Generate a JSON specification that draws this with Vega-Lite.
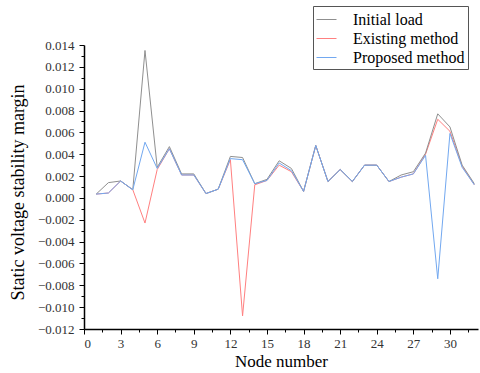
{
  "$schema": "https://vega.github.io/schema/vega-lite/v6.json",
  "width": 394,
  "height": 284,
  "autosize": {"type": "none"},
  "padding": {"left": 84, "top": 45, "right": 2, "bottom": 44},
  "background": "white",
  "config": {"view": {"stroke": null}, "font": "Liberation Serif"},
  "data": {"values": [
    {"node":1,"series":"Existing method","v":0.00035},{"node":1,"series":"Initial load","v":0.00035},{"node":1,"series":"Proposed method","v":0.00035},
    {"node":2,"series":"Existing method","v":0.00045},{"node":2,"series":"Initial load","v":0.0014},{"node":2,"series":"Proposed method","v":0.00045},
    {"node":3,"series":"Existing method","v":0.00155},{"node":3,"series":"Initial load","v":0.00155},{"node":3,"series":"Proposed method","v":0.00155},
    {"node":4,"series":"Existing method","v":0.00075},{"node":4,"series":"Initial load","v":0.00075},{"node":4,"series":"Proposed method","v":0.00075},
    {"node":5,"series":"Existing method","v":-0.0023},{"node":5,"series":"Initial load","v":0.0135},{"node":5,"series":"Proposed method","v":0.0051},
    {"node":6,"series":"Existing method","v":0.0026},{"node":6,"series":"Initial load","v":0.0028},{"node":6,"series":"Proposed method","v":0.0027},
    {"node":7,"series":"Existing method","v":0.0045},{"node":7,"series":"Initial load","v":0.0047},{"node":7,"series":"Proposed method","v":0.0045},
    {"node":8,"series":"Existing method","v":0.0021},{"node":8,"series":"Initial load","v":0.0022},{"node":8,"series":"Proposed method","v":0.0021},
    {"node":9,"series":"Existing method","v":0.0021},{"node":9,"series":"Initial load","v":0.0022},{"node":9,"series":"Proposed method","v":0.0021},
    {"node":10,"series":"Existing method","v":0.0004},{"node":10,"series":"Initial load","v":0.0004},{"node":10,"series":"Proposed method","v":0.0004},
    {"node":11,"series":"Existing method","v":0.0008},{"node":11,"series":"Initial load","v":0.0008},{"node":11,"series":"Proposed method","v":0.0008},
    {"node":12,"series":"Existing method","v":0.0035},{"node":12,"series":"Initial load","v":0.0038},{"node":12,"series":"Proposed method","v":0.0036},
    {"node":13,"series":"Existing method","v":-0.0108},{"node":13,"series":"Initial load","v":0.0037},{"node":13,"series":"Proposed method","v":0.0035},
    {"node":14,"series":"Existing method","v":0.0012},{"node":14,"series":"Initial load","v":0.0013},{"node":14,"series":"Proposed method","v":0.0013},
    {"node":15,"series":"Existing method","v":0.0016},{"node":15,"series":"Initial load","v":0.0017},{"node":15,"series":"Proposed method","v":0.0016},
    {"node":16,"series":"Existing method","v":0.003},{"node":16,"series":"Initial load","v":0.0034},{"node":16,"series":"Proposed method","v":0.0032},
    {"node":17,"series":"Existing method","v":0.0024},{"node":17,"series":"Initial load","v":0.0027},{"node":17,"series":"Proposed method","v":0.0025},
    {"node":18,"series":"Existing method","v":0.0006},{"node":18,"series":"Initial load","v":0.0006},{"node":18,"series":"Proposed method","v":0.0006},
    {"node":19,"series":"Existing method","v":0.0048},{"node":19,"series":"Initial load","v":0.0048},{"node":19,"series":"Proposed method","v":0.0048},
    {"node":20,"series":"Existing method","v":0.0015},{"node":20,"series":"Initial load","v":0.0015},{"node":20,"series":"Proposed method","v":0.0015},
    {"node":21,"series":"Existing method","v":0.0026},{"node":21,"series":"Initial load","v":0.0026},{"node":21,"series":"Proposed method","v":0.0026},
    {"node":22,"series":"Existing method","v":0.0015},{"node":22,"series":"Initial load","v":0.0015},{"node":22,"series":"Proposed method","v":0.0015},
    {"node":23,"series":"Existing method","v":0.003},{"node":23,"series":"Initial load","v":0.003},{"node":23,"series":"Proposed method","v":0.003},
    {"node":24,"series":"Existing method","v":0.003},{"node":24,"series":"Initial load","v":0.003},{"node":24,"series":"Proposed method","v":0.003},
    {"node":25,"series":"Existing method","v":0.0015},{"node":25,"series":"Initial load","v":0.0015},{"node":25,"series":"Proposed method","v":0.0015},
    {"node":26,"series":"Existing method","v":0.0019},{"node":26,"series":"Initial load","v":0.0021},{"node":26,"series":"Proposed method","v":0.0019},
    {"node":27,"series":"Existing method","v":0.0022},{"node":27,"series":"Initial load","v":0.0024},{"node":27,"series":"Proposed method","v":0.0022},
    {"node":28,"series":"Existing method","v":0.004},{"node":28,"series":"Initial load","v":0.0041},{"node":28,"series":"Proposed method","v":0.0039},
    {"node":29,"series":"Existing method","v":0.0072},{"node":29,"series":"Initial load","v":0.0077},{"node":29,"series":"Proposed method","v":-0.0074},
    {"node":30,"series":"Existing method","v":0.0061},{"node":30,"series":"Initial load","v":0.0065},{"node":30,"series":"Proposed method","v":0.0059},
    {"node":31,"series":"Existing method","v":0.0029},{"node":31,"series":"Initial load","v":0.003},{"node":31,"series":"Proposed method","v":0.0028},
    {"node":32,"series":"Existing method","v":0.0012},{"node":32,"series":"Initial load","v":0.0013},{"node":32,"series":"Proposed method","v":0.0012}
  ]},
  "mark": {"type": "line", "strokeWidth": 1, "clip": true},
  "encoding": {
    "x": {
      "field": "node", "type": "quantitative",
      "scale": {"domain": [0, 32.3], "nice": false, "zero": false},
      "axis": {
        "title": "Node number",
        "titleFont": "Liberation Serif", "titleFontSize": 17, "titleFontWeight": "normal", "titleColor": "black",
        "titlePadding": 3,
        "values": [0,1.5,3,4.5,6,7.5,9,10.5,12,13.5,15,16.5,18,19.5,21,22.5,24,25.5,27,28.5,30,31.5],
        "labelExpr": "datum.value % 3 == 0 ? format(datum.value, 'd') : ''",
        "labelFont": "Liberation Serif", "labelFontSize": 13, "labelColor": "#333",
        "labelPadding": 3,
        "tickSize": {"condition": {"test": "datum.value % 3 == 0", "value": 5}, "value": 3},
        "tickColor": "black", "tickWidth": 1,
        "domainColor": "black", "domainWidth": 1.5,
        "grid": false
      }
    },
    "y": {
      "field": "v", "type": "quantitative",
      "scale": {"domain": [-0.012, 0.014], "nice": false, "zero": false},
      "axis": {
        "title": "Static voltage stability margin",
        "titleFont": "Liberation Serif", "titleFontSize": 18, "titleFontWeight": "normal", "titleColor": "black",
        "titlePadding": 10, "titleY": 147,
        "values": [-0.012,-0.011,-0.01,-0.009,-0.008,-0.007,-0.006,-0.005,-0.004,-0.003,-0.002,-0.001,0,0.001,0.002,0.003,0.004,0.005,0.006,0.007,0.008,0.009,0.01,0.011,0.012,0.013,0.014],
        "labelExpr": "round(datum.value*1000) % 2 == 0 ? format(datum.value, '.3f') : ''",
        "labelFont": "Liberation Serif", "labelFontSize": 13, "labelColor": "#333",
        "labelPadding": 5,
        "tickSize": {"condition": {"test": "round(datum.value*1000) % 2 == 0", "value": 5}, "value": 3},
        "tickColor": "black", "tickWidth": 1,
        "domainColor": "black", "domainWidth": 1.5,
        "grid": false
      }
    },
    "color": {
      "field": "series", "type": "nominal",
      "scale": {"domain": ["Initial load", "Existing method", "Proposed method"], "range": ["#8f8f8f", "#ff8080", "#72a8f0"]},
      "legend": {
        "title": null, "orient": "none", "legendX": 229, "legendY": -39,
        "symbolType": "stroke", "symbolSize": 400, "symbolStrokeWidth": 1,
        "labelFont": "Liberation Serif", "labelFontSize": 16, "labelColor": "black",
        "labelOffset": 16, "rowPadding": -1,
        "strokeColor": "#555", "padding": 3, "fillColor": "white"
      }
    },
    "order": {"field": "node", "type": "quantitative"}
  }
}
